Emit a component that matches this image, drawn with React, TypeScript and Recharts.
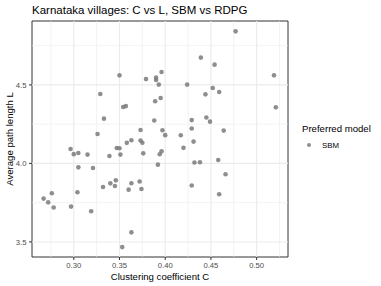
import React from "react";
import {
  ScatterChart,
  Scatter,
  XAxis,
  YAxis,
  ReferenceLine,
  ReferenceArea,
} from "recharts";

// clustering coefficient C per village
const clustering = [
  0.477, 0.439, 0.454, 0.35, 0.396, 0.379, 0.39, 0.39, 0.393, 0.424,
  0.519, 0.329, 0.452, 0.444, 0.459, 0.389, 0.395, 0.354, 0.357, 0.521,
  0.333, 0.388, 0.429, 0.445, 0.449, 0.326, 0.373, 0.397, 0.4, 0.417,
  0.429, 0.464, 0.363, 0.358, 0.373, 0.375, 0.431, 0.2965, 0.347, 0.35,
  0.42, 0.396, 0.3, 0.305, 0.315, 0.339, 0.351, 0.376, 0.394, 0.305,
  0.321, 0.392, 0.432, 0.438, 0.458, 0.466, 0.332, 0.34, 0.346, 0.345,
  0.36, 0.363, 0.372, 0.374, 0.429, 0.459, 0.267, 0.272, 0.276, 0.278,
  0.297, 0.304, 0.319, 0.363, 0.353,
];

// average path length L per village
const pathLength = [
  4.841, 4.674, 4.629, 4.561, 4.582, 4.537, 4.547, 4.531, 4.502, 4.502,
  4.561, 4.442, 4.48, 4.44, 4.455, 4.396, 4.417, 4.359, 4.365, 4.357,
  4.285, 4.273, 4.276, 4.292, 4.266, 4.187, 4.213, 4.211, 4.18, 4.179,
  4.222, 4.209, 4.148, 4.131, 4.146, 4.132, 4.139, 4.092, 4.098, 4.097,
  4.099, 4.077, 4.059, 4.066, 4.056, 4.047, 4.056, 4.064, 4.058, 3.975,
  3.971, 3.992, 4.006, 4.007, 4.022, 3.931, 3.85, 3.873, 3.892, 3.856,
  3.833, 3.874, 3.885, 3.837, 3.859, 3.804, 3.776, 3.752, 3.81, 3.719,
  3.725, 3.816, 3.695, 3.561, 3.467,
];

const xTicks = [0.3, 0.35, 0.4, 0.45, 0.5];
const xMinor = [0.275, 0.325, 0.375, 0.425, 0.475, 0.525];
const yTicks = [3.5, 4.0, 4.5];
const yMinor = [3.75, 4.25, 4.75];
const xDomain = [0.2543, 0.5343];
const yDomain = [3.404, 4.907];

const data = clustering.map((c, i) => ({ c, L: pathLength[i] }));

const FONT = "'Liberation Sans', Arial, sans-serif";
const GRID = "#ebebeb";

const Dot = (props: any) => {
  const { cx, cy } = props;
  if (cx == null || cy == null) return null;
  return <circle cx={cx} cy={cy} r={2.3} fill="#7a7a7a" fillOpacity={0.85} />;
};

export default function App() {
  return (
    <div
      style={{
        position: "absolute",
        left: 0,
        top: 0,
        width: 381,
        height: 286,
        background: "#fff",
        fontFamily: FONT,
      }}
    >
      <ScatterChart
        width={381}
        height={286}
        margin={{ top: 21, right: 93, bottom: 0, left: 0 }}
      >
        {xMinor.map((v) => (
          <ReferenceLine key={`xm${v}`} x={v} stroke={GRID} strokeWidth={0.6} />
        ))}
        {yMinor.map((v) => (
          <ReferenceLine key={`ym${v}`} y={v} stroke={GRID} strokeWidth={0.6} />
        ))}
        {xTicks.map((v) => (
          <ReferenceLine key={`x${v}`} x={v} stroke={GRID} strokeWidth={1.1} />
        ))}
        {yTicks.map((v) => (
          <ReferenceLine key={`y${v}`} y={v} stroke={GRID} strokeWidth={1.1} />
        ))}
        <XAxis
          type="number"
          dataKey="c"
          domain={xDomain}
          ticks={xTicks}
          allowDataOverflow
          tickFormatter={(v: number) => v.toFixed(2)}
          axisLine={false}
          tickSize={3}
          tickMargin={2.5}
          tickLine={{ stroke: "#333333" }}
          tick={{ fontSize: 7.7, fill: "#4d4d4d", fontFamily: FONT }}
          height={29}
          label={{
            value: "Clustering coefficient C",
            position: "insideBottom",
            offset: 6.5,
            style: { fontSize: 9.6, fill: "#000", fontFamily: FONT },
          }}
        />
        <YAxis
          type="number"
          dataKey="L"
          domain={yDomain}
          ticks={yTicks}
          allowDataOverflow
          tickFormatter={(v: number) => v.toFixed(1)}
          axisLine={false}
          tickSize={3}
          tickMargin={2.5}
          tickLine={{ stroke: "#333333" }}
          tick={{ fontSize: 7.7, fill: "#4d4d4d", fontFamily: FONT }}
          width={32}
          label={{
            value: "Average path length L",
            angle: -90,
            position: "insideLeft",
            offset: 10,
            style: {
              textAnchor: "middle",
              fontSize: 9.6,
              fill: "#000",
              fontFamily: FONT,
            },
          }}
        />
        <Scatter data={data} shape={<Dot />} isAnimationActive={false} />
        <ReferenceArea
          x1={xDomain[0]}
          x2={xDomain[1]}
          y1={yDomain[0]}
          y2={yDomain[1]}
          fill="none"
          fillOpacity={0}
          stroke="#333333"
          strokeWidth={1}
          ifOverflow="visible"
        />
      </ScatterChart>
      <svg
        width={381}
        height={286}
        style={{ position: "absolute", left: 0, top: 0, pointerEvents: "none" }}
      >
        <text x={32} y={14} fontSize={11.5} fill="#000" fontFamily={FONT}>
          Karnataka villages: C vs L, SBM vs RDPG
        </text>
        <text x={302} y={132.3} fontSize={9.6} fill="#000" fontFamily={FONT}>
          Preferred model
        </text>
        <circle cx={309} cy={145} r={2} fill="#7a7a7a" fillOpacity={0.85} />
        <text x={322} y={147.8} fontSize={7.8} fill="#000" fontFamily={FONT}>
          SBM
        </text>
      </svg>
    </div>
  );
}
